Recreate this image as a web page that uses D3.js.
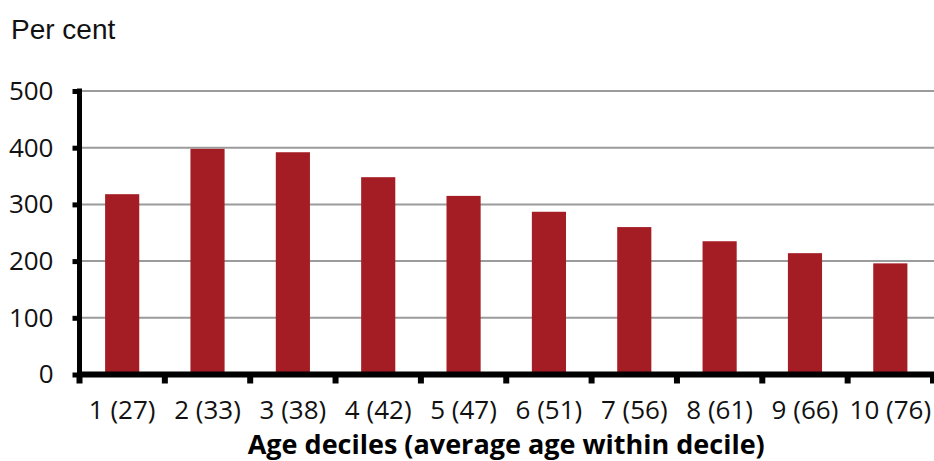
<!DOCTYPE html>
<html>
<head>
<meta charset="utf-8">
<script src="https://cdn.jsdelivr.net/npm/d3@7/dist/d3.min.js"></script>
<style>
  html, body { margin: 0; padding: 0; background: #fff; }
  svg { display: block; }
</style>
</head>
<body>
<svg id="chart" width="934" height="461"></svg>
<script>
// Decile labels (average age within decile in brackets)
const categories = ["1 (27)", "2 (33)", "3 (38)", "4 (42)", "5 (47)",
                    "6 (51)", "7 (56)", "8 (61)", "9 (66)", "10 (76)"];
// Values, per cent
const values = [318, 398, 392, 348, 315, 287, 260, 235, 214, 196];
// Y-axis ticks
const yTicks = [0, 100, 200, 300, 400, 500];

const svg = d3.select("#chart");
const plotLeft = 79.5, plotRight = 933, plotTop = 91, plotBottom = 374.5;

const x = d3.scaleBand()
  .domain(categories)
  .range([plotLeft, plotRight])
  .paddingInner(0.6)
  .paddingOuter(0.3);

const y = d3.scaleLinear().domain([0, 500]).range([plotBottom, plotTop]);

// Horizontal gridlines
svg.append("g")
  .selectAll("line")
  .data(yTicks.filter(d => d > 0))
  .join("line")
  .attr("x1", plotLeft).attr("x2", plotRight + 1)
  .attr("y1", d => y(d)).attr("y2", d => y(d))
  .attr("stroke", "#9b9b9b")
  .attr("stroke-width", 2);

// Bars
svg.append("g")
  .selectAll("rect")
  .data(values)
  .join("rect")
  .attr("x", (d, i) => x(categories[i]))
  .attr("width", x.bandwidth())
  .attr("y", d => y(d))
  .attr("height", d => y(0) - y(d))
  .attr("fill", "#a41d25");

// Y axis
const yAxis = svg.append("g").attr("transform", `translate(${plotLeft},0)`)
  .call(d3.axisLeft(y).tickValues(yTicks).tickSize(7).tickPadding(19).tickFormat(d3.format("d")));
yAxis.select(".domain").remove();
yAxis.selectAll(".tick line").attr("stroke", "#000").attr("stroke-width", 5);
yAxis.selectAll(".tick text")
  .attr("font-family", "'Open Sans', 'Noto Sans', sans-serif")
  .attr("font-size", 26)
  .attr("fill", "#111");
svg.append("line")
  .attr("x1", plotLeft).attr("x2", plotLeft)
  .attr("y1", plotTop - 2.5).attr("y2", plotBottom + 3)
  .attr("stroke", "#000").attr("stroke-width", 5);

// X axis with ticks at category boundaries
const step = x.step();
const xAxis = svg.append("g").attr("transform", `translate(0,${plotBottom})`);
xAxis.append("line")
  .attr("x1", plotLeft - 2.5).attr("x2", 934)
  .attr("y1", 0).attr("y2", 0)
  .attr("stroke", "#000").attr("stroke-width", 6);
xAxis.selectAll("line.tk")
  .data(d3.range(categories.length + 1))
  .join("line")
  .attr("class", "tk")
  .attr("x1", i => plotLeft + i * step).attr("x2", i => plotLeft + i * step)
  .attr("y1", 0).attr("y2", 9)
  .attr("stroke", "#000").attr("stroke-width", 6);
xAxis.selectAll("text")
  .data(categories)
  .join("text")
  .attr("x", d => x(d) + x.bandwidth() / 2)
  .attr("y", 44)
  .attr("text-anchor", "middle")
  .attr("font-family", "'Open Sans', 'Noto Sans', sans-serif")
  .attr("font-size", 26)
  .attr("fill", "#111")
  .text(d => d);

// Axis title
svg.append("text")
  .attr("x", (plotLeft + plotRight) / 2)
  .attr("y", 454)
  .attr("text-anchor", "middle")
  .attr("font-family", "'Open Sans', 'Noto Sans', sans-serif")
  .attr("font-weight", "bold")
  .attr("font-size", 27)
  .attr("fill", "#000")
  .text("Age deciles (average age within decile)");

// Unit label
svg.append("text")
  .attr("x", 11)
  .attr("y", 39)
  .attr("font-family", "'Liberation Sans', Arial, sans-serif")
  .attr("font-size", 28)
  .attr("fill", "#111")
  .text("Per cent");
</script>
</body>
</html>
